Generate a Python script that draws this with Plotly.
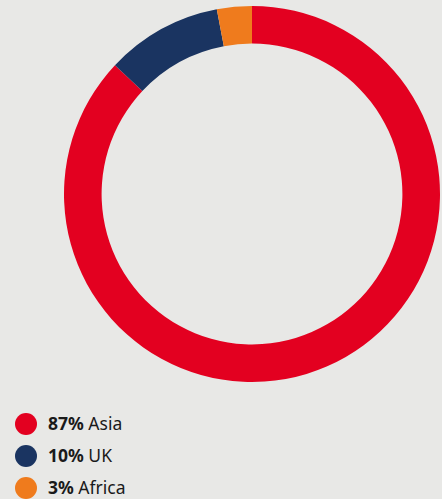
import plotly.graph_objects as go

regions = ["Asia", "UK", "Africa"]
shares = [87, 10, 3]
colors = ["#e30020", "#1a3461", "#ef7b1d"]

W, H = 442, 499
fig = go.Figure()
fig.add_trace(go.Pie(
    labels=regions, values=shares, hole=0.80, sort=False, direction="clockwise",
    rotation=0, marker=dict(colors=colors, line=dict(width=0)), textinfo="none",
    hoverinfo="label+percent", showlegend=False,
    domain=dict(x=[64 / W, 440 / W], y=[1 - 382 / H, 1 - 6 / H]),
))

bg = "#e8e8e6"
legend_y = [424, 456, 488]
for name, val, col, yy in zip(regions, shares, colors, legend_y):
    fig.add_shape(type="circle", xref="paper", yref="paper",
                  x0=15 / W, x1=37 / W, y0=1 - (yy + 11) / H, y1=1 - (yy - 11) / H,
                  fillcolor=col, line=dict(width=0))
    fig.add_annotation(xref="paper", yref="paper", x=46 / W, y=1 - (yy - 1) / H,
                       xanchor="left", yanchor="middle", showarrow=False,
                       text=f"<b>{val}%</b> {name}",
                       font=dict(family="Noto Sans", size=17.5, color="#1a1a1a"))

fig.update_layout(width=W, height=H, margin=dict(l=0, r=0, t=0, b=0),
                  paper_bgcolor=bg, plot_bgcolor=bg)
fig.write_html("out.html", config={"displayModeBar": False},
               post_script="document.body.style.margin='0';document.body.style.overflow='hidden';document.body.style.background='#e8e8e6';")
